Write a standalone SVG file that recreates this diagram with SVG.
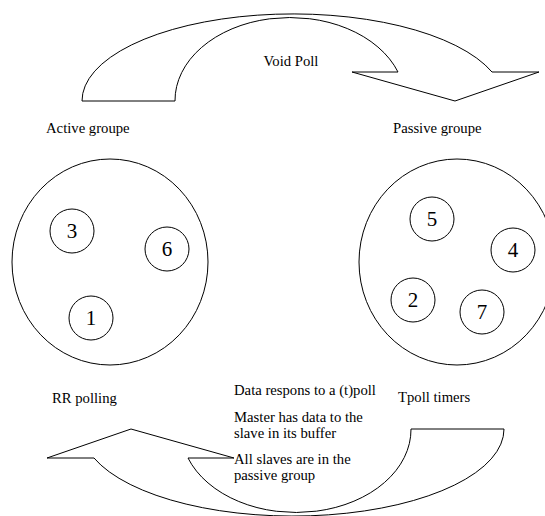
<svg xmlns="http://www.w3.org/2000/svg" width="545" height="516" viewBox="0 0 545 516">
  <style>
    .shape { fill: none; stroke: #000; stroke-width: 1; }
    text { font-family: 'Liberation Serif', 'Times New Roman', serif; fill: #000; }
    .label { font-size: 14.7px; }
    .num { font-size: 21px; text-anchor: middle; }
  </style>
  <defs>
    <!-- curved block arrow: base on the left, head on the right -->
    <path id="curved-arrow" d="M 82 101 L 175 101 A 115 83 0 0 1 398 72 L 352 72 L 455 101 L 539 72 L 492 72 A 211 87 0 0 0 82 101 Z"/>
  </defs>
  <rect width="545" height="516" fill="#fff"/>

  <!-- the lower arrow is the upper one turned half a turn -->
  <g id="connectors">
    <use href="#curved-arrow" class="shape"/>
    <use href="#curved-arrow" class="shape" transform="rotate(180 293 265)"/>
  </g>

  <g id="active-group">
    <ellipse class="shape" cx="110" cy="262" rx="98" ry="103"/>
    <text class="label" x="46" y="133">Active groupe</text>
  </g>
  <g id="passive-group">
    <ellipse class="shape" cx="457" cy="262" rx="98" ry="103"/>
    <text class="label" x="393" y="133">Passive groupe</text>
  </g>

  <g id="node-3"><circle class="shape" cx="72" cy="231" r="22"/><text class="num" x="72" y="238">3</text></g>
  <g id="node-6"><circle class="shape" cx="167" cy="249" r="22"/><text class="num" x="167" y="256">6</text></g>
  <g id="node-1"><circle class="shape" cx="91" cy="318" r="22"/><text class="num" x="91" y="325">1</text></g>

  <g id="node-5"><circle class="shape" cx="432" cy="219" r="22"/><text class="num" x="432" y="226">5</text></g>
  <g id="node-4"><circle class="shape" cx="513" cy="250" r="22"/><text class="num" x="513" y="257">4</text></g>
  <g id="node-2"><circle class="shape" cx="413" cy="300" r="22"/><text class="num" x="413" y="307">2</text></g>
  <g id="node-7"><circle class="shape" cx="482" cy="312" r="22"/><text class="num" x="482" y="319">7</text></g>

  <g id="labels">
    <text class="label" x="291" y="66" text-anchor="middle" font-size="15.5px">Void Poll</text>
    <text class="label" x="52" y="403">RR polling</text>
    <text class="label" x="398" y="402">Tpoll timers</text>
    <text class="label" x="234" y="395">Data respons to a (t)poll</text>
    <text class="label" x="234" y="422">Master has data to the</text>
    <text class="label" x="234" y="438">slave in its buffer</text>
    <text class="label" x="234" y="464">All slaves are in the</text>
    <text class="label" x="234" y="480">passive group</text>
  </g>
</svg>
